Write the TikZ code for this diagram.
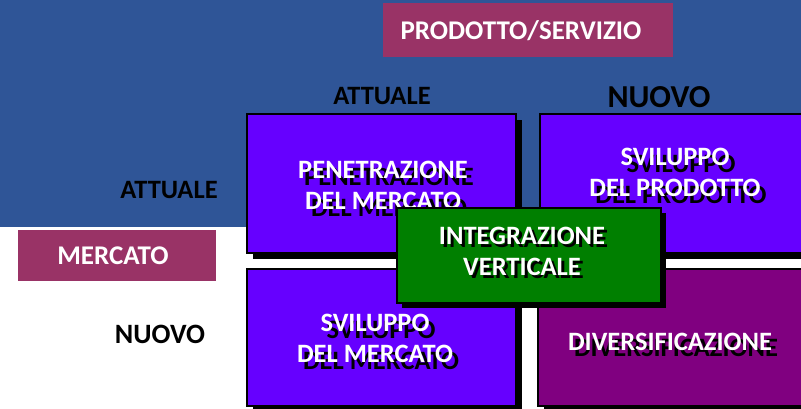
\documentclass[tikz,border=0pt]{standalone}
\usepackage{fontspec}
\setmainfont{Carlito}
\usetikzlibrary{shadows}
\definecolor{bgblue}{HTML}{2F5597}
\definecolor{boxblue}{HTML}{6600FF}
\definecolor{boxpurple}{HTML}{800080}
\definecolor{boxgreen}{HTML}{007F00}
\definecolor{labelred}{HTML}{993366}
\begin{document}
\begin{tikzpicture}[x=1pt,y=-1pt,
  cell/.style={draw=black, line width=2pt, rectangle, anchor=north west, inner sep=0pt},
  bigshadow/.style={drop shadow={shadow xshift=6pt, shadow yshift=-6pt, opacity=1, fill=black}},
  smallshadow/.style={drop shadow={shadow xshift=5pt, shadow yshift=-5pt, opacity=1, fill=black}},
  celltext/.style={font=\bfseries\fontsize{26.5}{31}\selectfont, align=center, inner sep=0pt, text=white},
  celltextshadow/.style={celltext, text=black},
  labelbox/.style={fill=labelred, rectangle, inner sep=0pt, anchor=north west},
  labeltext/.style={font=\bfseries\fontsize{27}{30}\selectfont, text=white, inner sep=0pt},
  axistext/.style={font=\bfseries\fontsize{26.5}{30}\selectfont, text=black, inner sep=0pt}
]
\useasboundingbox (0,0) rectangle (801,409);
\fill[bgblue] (0,0) rectangle (801,227);
% labels
\node[labelbox, minimum width=290pt, minimum height=54pt] (prodbox) at (383,3) {};
\node[labeltext] (prodtext) at (521,31) {PRODOTTO/SERVIZIO};
\node[labelbox, minimum width=198pt, minimum height=51pt] (mercbox) at (18,230) {};
\node[labeltext] (merctext) at (113,256) {MERCATO};
\node[axistext] (topatt) at (382,96) {ATTUALE};
\node[axistext, font=\bfseries\fontsize{32}{36}\selectfont] (topnuovo) at (659,97) {NUOVO};
\node[axistext] (leftatt) at (169,190) {ATTUALE};
\node[axistext, font=\bfseries\fontsize{28}{32}\selectfont] (leftnuovo) at (160,334) {NUOVO};
% cells
\node[cell, bigshadow, fill=boxblue, minimum width=269pt, minimum height=139pt] (pen) at (246,113) {};
\node[cell, bigshadow, fill=boxblue, minimum width=270pt, minimum height=139pt] (svp) at (539,113) {};
\node[cell, bigshadow, fill=boxblue, minimum width=269pt, minimum height=137pt] (svm) at (246,268) {};
\node[cell, bigshadow, fill=boxpurple, minimum width=270pt, minimum height=137pt] (div) at (537,268) {};
% cell texts
\node[celltextshadow] (pents) at (389,192) {PENETRAZIONE\\DEL MERCATO};
\node[celltext] (pent) at (383,185) {PENETRAZIONE\\DEL MERCATO};
\node[celltextshadow] (svpts) at (681,179) {SVILUPPO\\DEL PRODOTTO};
\node[celltext] (svpt) at (675,172) {SVILUPPO\\DEL PRODOTTO};
\node[celltextshadow] (svmts) at (381,345) {SVILUPPO\\DEL MERCATO};
\node[celltext] (svmt) at (375,338) {SVILUPPO\\DEL MERCATO};
\node[celltextshadow] (divts) at (676,348) {DIVERSIFICAZIONE};
\node[celltext] (divt) at (670,342) {DIVERSIFICAZIONE};
% green
\node[cell, smallshadow, fill=boxgreen, minimum width=264pt, minimum height=95pt] (intg) at (396,207) {};
\node[celltextshadow] (intgts) at (525,254) {INTEGRAZIONE\\VERTICALE};
\node[celltext] (intgt) at (522,251) {INTEGRAZIONE\\VERTICALE};
\end{tikzpicture}
\end{document}
